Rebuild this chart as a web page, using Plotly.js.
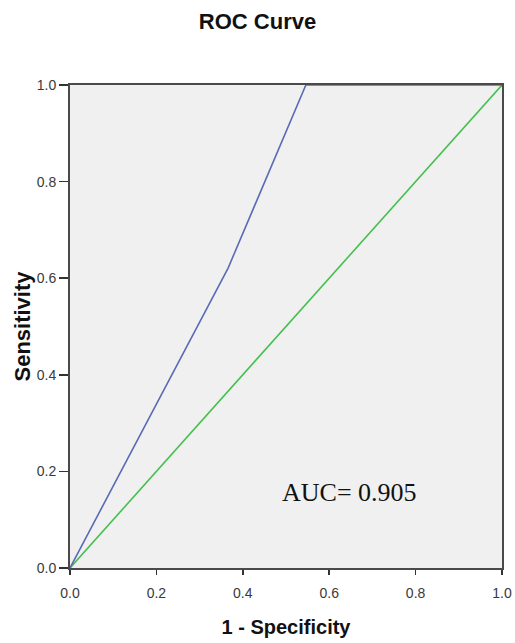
<!DOCTYPE html>
<html><head><meta charset="utf-8">
<script src="https://cdn.plot.ly/plotly-3.0.1.min.js"></script>
<style>html,body{margin:0;padding:0;background:#fff;}</style>
</head><body>
<div id="chart" style="width:515px;height:643px;"></div>
<script>
const rocX = [0, 0.366, 0.546, 1.0];
const rocY = [0, 0.621, 1.0, 1.0];
const refX = [0, 1];
const refY = [0, 1];
const tickVals = [0, 0.2, 0.4, 0.6, 0.8, 1.0];
const tickText = ["0.0", "0.2", "0.4", "0.6", "0.8", "1.0"];
const aucLabel = "AUC= 0.905";

const sans = "Liberation Sans, Arial, sans-serif";
const axisCommon = {
  range: [0, 1], tickvals: tickVals, ticktext: tickText,
  ticks: "outside", tickwidth: 1.5, tickcolor: "#333",
  showline: true, linecolor: "#4a4a4a", linewidth: 2, mirror: true,
  showgrid: false, zeroline: false,
  tickfont: {family: sans, size: 14, color: "#3a3a3a"}
};

Plotly.newPlot("chart", [
  {x: refX, y: refY, mode: "lines", line: {color: "#45c04f", width: 1.6}, hoverinfo: "none"},
  {x: rocX, y: rocY, mode: "lines", line: {color: "#5a6bb5", width: 1.6}, hoverinfo: "none"}
], {
  width: 515, height: 643,
  margin: {l: 70, r: 13, t: 85, b: 75},
  paper_bgcolor: "#ffffff", plot_bgcolor: "#f0f0f0",
  showlegend: false,
  title: {text: "<b>ROC Curve</b>", x: 0.5, xanchor: "center", y: 0.967, yanchor: "middle",
    font: {family: sans, size: 22, color: "#111"}},
  xaxis: Object.assign({}, axisCommon, {
    ticklen: 5, ticklabelstandoff: 6,
    title: {text: "<b>1 - Specificity</b>", standoff: 20,
      font: {family: sans, size: 20, color: "#111"}}
  }),
  yaxis: Object.assign({}, axisCommon, {
    ticklen: 9, ticklabelstandoff: 0,
    title: {text: "<b>Sensitivity</b>", standoff: 0,
      font: {family: sans, size: 22, color: "#111"}}
  }),
  annotations: [{
    x: 0.646, y: 0.157, xref: "x", yref: "y", text: aucLabel, showarrow: false,
    font: {family: "Liberation Serif, Times New Roman, serif", size: 26, color: "#111"}
  }]
}, {displayModeBar: false, staticPlot: true});
</script>
</body></html>
